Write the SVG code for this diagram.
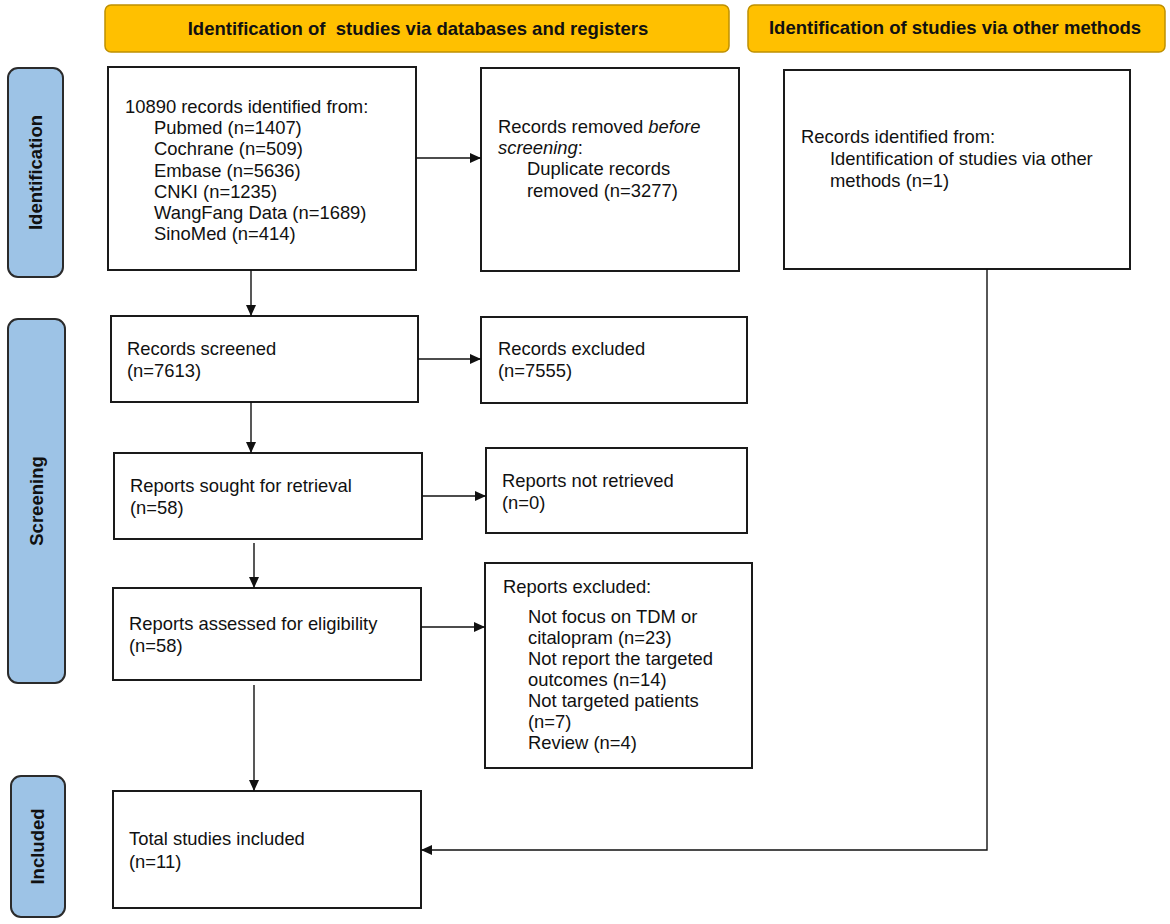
<svg xmlns="http://www.w3.org/2000/svg" width="1170" height="924" viewBox="0 0 1170 924">
<style>
.hdr{fill:#FFC000;stroke:#BF9000;stroke-width:1.5}
.side{fill:#9DC3E6;stroke:#2b2b2b;stroke-width:2}
.box{fill:#fff;stroke:#1a1a1a;stroke-width:2}
.ht{font-family:"Liberation Sans",Arial,sans-serif;font-weight:bold;font-size:18.5px;fill:#111}
.st{font-family:"Liberation Sans",Arial,sans-serif;font-weight:bold;font-size:18.5px;fill:#111}
.t{font-family:"Liberation Sans",Arial,sans-serif;font-size:18.4px;fill:#111}
.c{fill:none;stroke:#111;stroke-width:1.4}
</style>
<defs>
<marker id="ah" markerUnits="userSpaceOnUse" markerWidth="12" markerHeight="10" refX="11" refY="5" orient="auto">
<path d="M0,0 L11,5 L0,10 z" fill="#111"/>
</marker>
</defs>
<rect width="1170" height="924" fill="#fff"/>

<g id="header-databases">
<rect class="hdr" x="105" y="5" width="624" height="47" rx="6"/>
<text class="ht" x="418" y="35" text-anchor="middle" xml:space="preserve">Identification of  studies via databases and registers</text>
</g>
<g id="header-other">
<rect class="hdr" x="748" y="5" width="417" height="47" rx="6"/>
<text class="ht" x="955" y="34" text-anchor="middle">Identification of studies via other methods</text>
</g>

<g id="stage-identification">
<rect class="side" x="8" y="68" width="55" height="209" rx="10"/>
<text class="st" transform="translate(42,172.5) rotate(-90)" text-anchor="middle">Identification</text>
</g>
<g id="stage-screening">
<rect class="side" x="8" y="319" width="57" height="364" rx="10"/>
<text class="st" transform="translate(43,501) rotate(-90)" text-anchor="middle">Screening</text>
</g>
<g id="stage-included">
<rect class="side" x="11" y="776" width="54" height="141" rx="10"/>
<text class="st" transform="translate(44,846.5) rotate(-90)" text-anchor="middle">Included</text>
</g>

<g id="records-identified">
<rect class="box" x="108" y="67" width="308" height="203"/>
<text class="t" x="125" y="113">10890 records identified from:</text>
<text class="t" x="154" y="134.2">Pubmed (n=1407)</text>
<text class="t" x="154" y="155.4">Cochrane (n=509)</text>
<text class="t" x="154" y="176.6">Embase (n=5636)</text>
<text class="t" x="154" y="197.8">CNKI (n=1235)</text>
<text class="t" x="154" y="219">WangFang Data (n=1689)</text>
<text class="t" x="154" y="240.2">SinoMed (n=414)</text>
</g>

<g id="records-removed">
<rect class="box" x="481" y="68" width="258" height="203"/>
<text class="t" x="498" y="133">Records removed <tspan font-style="italic">before</tspan></text>
<text class="t" x="498" y="154"><tspan font-style="italic">screening</tspan>:</text>
<text class="t" x="527" y="175">Duplicate records</text>
<text class="t" x="527" y="196.5">removed (n=3277)</text>
</g>

<g id="records-other">
<rect class="box" x="784" y="70" width="346" height="199"/>
<text class="t" x="801" y="143">Records identified from:</text>
<text class="t" x="830" y="165">Identification of studies via other</text>
<text class="t" x="830" y="187">methods (n=1)</text>
</g>

<g id="records-screened">
<rect class="box" x="111" y="316" width="307" height="86"/>
<text class="t" x="127" y="355">Records screened</text>
<text class="t" x="127" y="377">(n=7613)</text>
</g>

<g id="records-excluded">
<rect class="box" x="481" y="317" width="266" height="86"/>
<text class="t" x="498" y="355">Records excluded</text>
<text class="t" x="498" y="377">(n=7555)</text>
</g>

<g id="reports-sought">
<rect class="box" x="114" y="453" width="308" height="86"/>
<text class="t" x="130" y="492">Reports sought for retrieval</text>
<text class="t" x="130" y="513.5">(n=58)</text>
</g>

<g id="reports-not-retrieved">
<rect class="box" x="486" y="448" width="261" height="85"/>
<text class="t" x="502" y="487">Reports not retrieved</text>
<text class="t" x="502" y="508.5">(n=0)</text>
</g>

<g id="reports-assessed">
<rect class="box" x="113" y="588" width="308" height="92"/>
<text class="t" x="129" y="630">Reports assessed for eligibility</text>
<text class="t" x="129" y="652">(n=58)</text>
</g>

<g id="reports-excluded">
<rect class="box" x="485" y="563" width="267" height="205"/>
<text class="t" x="503" y="593">Reports excluded:</text>
<text class="t" x="528" y="623">Not focus on TDM or</text>
<text class="t" x="528" y="644">citalopram (n=23)</text>
<text class="t" x="528" y="665">Not report the targeted</text>
<text class="t" x="528" y="686">outcomes (n=14)</text>
<text class="t" x="528" y="707">Not targeted patients</text>
<text class="t" x="528" y="728">(n=7)</text>
<text class="t" x="528" y="749">Review (n=4)</text>
</g>

<g id="total-included">
<rect class="box" x="113" y="791" width="308" height="117"/>
<text class="t" x="129" y="845">Total studies included</text>
<text class="t" x="129" y="868">(n=11)</text>
</g>

<g id="connectors">
<line class="c" x1="416" y1="158" x2="481" y2="158" marker-end="url(#ah)"/>
<line class="c" x1="251" y1="270" x2="251" y2="316" marker-end="url(#ah)"/>
<line class="c" x1="418" y1="359" x2="481" y2="359" marker-end="url(#ah)"/>
<line class="c" x1="251" y1="402" x2="251" y2="453" marker-end="url(#ah)"/>
<line class="c" x1="422" y1="496" x2="486" y2="496" marker-end="url(#ah)"/>
<line class="c" x1="254" y1="543" x2="254" y2="588" marker-end="url(#ah)"/>
<line class="c" x1="421" y1="627" x2="485" y2="627" marker-end="url(#ah)"/>
<line class="c" x1="254" y1="685" x2="254" y2="791" marker-end="url(#ah)"/>
<polyline class="c" points="987,269 987,850 421,850" marker-end="url(#ah)"/>
</g>
</svg>
